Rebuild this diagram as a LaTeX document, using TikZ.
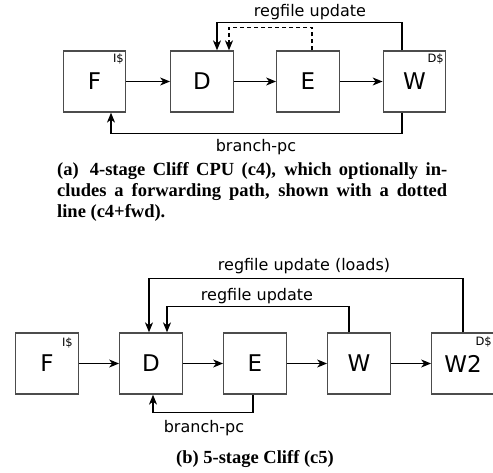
\documentclass[tikz,border=0pt]{standalone}
\usepackage{fontspec}
\setmainfont{Liberation Serif}
\newfontfamily\diafont{DejaVu Sans}
\usetikzlibrary{arrows.meta}
\newlength{\du}
\setlength{\du}{1pt}
\tikzset{
  stage/.style={draw=black!70, line width=1.3\du, fill=white, minimum width=62.5\du,
    minimum height=61\du, inner sep=0pt, font={\diafont\fontsize{23}{23}\selectfont}},
  cache/.style={inner sep=0pt, font={\diafont\fontsize{11.5}{12}\selectfont}},
  tag/.style={inner sep=0pt, font={\diafont\fontsize{16}{16}\selectfont}},
  caption/.style={inner sep=0pt, font={\fontsize{18.5}{21}\selectfont\bfseries}},
  wire/.style={line width=1.1\du, -{Stealth[length=10pt,width=8pt,inset=3pt]}},
  fwd/.style={wire, dash pattern=on 4pt off 3pt},
}

\begin{document}
\begin{tikzpicture}
\pgftransformxscale{1.000000}
\pgftransformyscale{-1.000000}
\useasboundingbox (0\du,0\du) rectangle (493\du,473\du);
% 4-stage pipeline
\node[stage] (F) at (94.5\du,81.5\du) {F};
\node[stage] (D) at (202\du,81.5\du) {D};
\node[stage] (E) at (308\du,81.5\du) {E};
\node[stage] (W) at (414.5\du,81.5\du) {W};
\node[cache, anchor=base east] (Fic) at (124\du,63\du) {I\$};
\node[cache, anchor=base east] (Wdc) at (444\du,63\du) {D\$};
\draw[wire] (F) -- (D);
\draw[wire] (D) -- (E);
\draw[wire] (E) -- (W);
\draw[wire] ([xshift=-12.5\du]W.north) -- ++(0,-28\du) -| ([xshift=15\du]D.north);
\draw[fwd] ([xshift=4\du]E.north) -- ++(0,-23\du) -| ([xshift=27\du]D.north);
\draw[wire] ([xshift=-12.5\du]W.south) -- ++(0,21\du) -| ([xshift=16.5\du]F.south);
\node[tag] (rfA) at (310\du,12.5\du) {regfile update};
\node[tag] (bpA) at (256\du,147\du) {branch-pc};
\node[caption, anchor=base west, text width=390\du, align=justify] (capA) at (57\du,176\du)
  {(a)\hspace{0.6em}4-stage Cliff CPU (c4), which optionally in-\linebreak cludes a forwarding path,
   shown with a dotted\linebreak line (c4+fwd).};
% 5-stage pipeline
\node[stage] (Fb) at (47\du,363.5\du) {F};
\node[stage] (Db) at (151\du,363.5\du) {D};
\node[stage] (Eb) at (255\du,363.5\du) {E};
\node[stage] (Wb) at (359\du,363.5\du) {W};
\node[stage] (Wtwo) at (463\du,363.5\du) {W2};
\node[cache, anchor=base east] (Fbic) at (73\du,346\du) {I\$};
\node[cache, anchor=base east] (Wtwodc) at (492\du,345\du) {D\$};
\draw[wire] (Fb) -- (Db);
\draw[wire] (Db) -- (Eb);
\draw[wire] (Eb) -- (Wb);
\draw[wire] (Wb) -- (Wtwo);
\draw[wire] (Wtwo.north) -- ++(0,-54\du) -| ([xshift=-2\du]Db.north);
\draw[wire] ([xshift=-10\du]Wb.north) -- ++(0,-26\du) -| ([xshift=16\du]Db.north);
\draw[wire] ([xshift=-2\du]Eb.south) -- ++(0,18\du) -| ([xshift=2\du]Db.south);
\node[tag] (rfLd) at (304\du,266\du) {regfile update (loads)};
\node[tag] (rfB) at (257\du,296.5\du) {regfile update};
\node[tag] (bpB) at (204\du,428.5\du) {branch-pc};
\node[caption] (capB) at (255\du,459\du) {(b) 5-stage Cliff (c5)};
\end{tikzpicture}
\end{document}
